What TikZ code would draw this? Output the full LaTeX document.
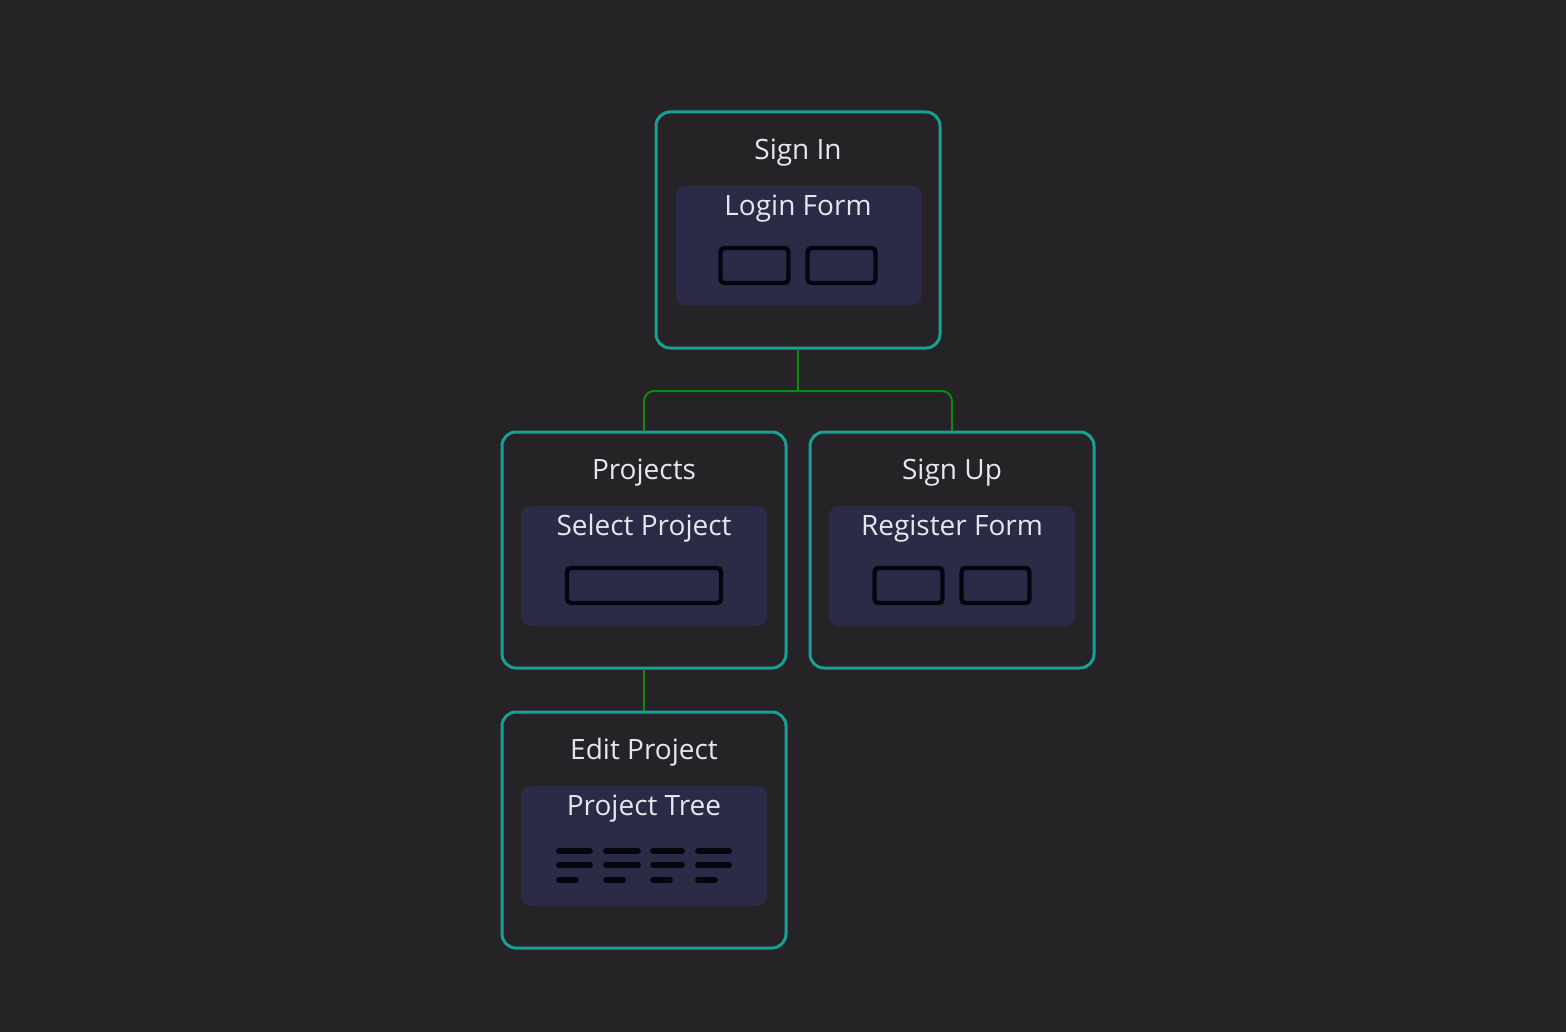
\documentclass[tikz,border=0pt]{standalone}
\usepackage{fontspec}
\setmainfont{Open Sans}
\definecolor{bg}{HTML}{252326}
\definecolor{teal}{HTML}{17A096}
\definecolor{panel}{HTML}{2B2B47}
\definecolor{conn}{HTML}{0E8A12}
\definecolor{txt}{HTML}{E6E6EE}
\definecolor{btn}{HTML}{050510}
\begin{document}
\begin{tikzpicture}[x=0.5pt,y=-0.5pt,
  screen/.style={draw=teal, line width=1.5pt, rounded corners=7pt, fill=bg, minimum width=142pt, minimum height=118pt, inner sep=0pt},
  pnl/.style={fill=panel, rounded corners=5pt, minimum width=123pt, minimum height=60pt, inner sep=0pt},
  ttl/.style={text=txt, font=\fontsize{14}{16}\selectfont, inner sep=0pt},
  btnbox/.style={draw=btn, line width=2.2pt, rounded corners=2pt, fill=panel, minimum width=34pt, minimum height=17.5pt, inner sep=0pt},
  wide/.style={btnbox, minimum width=77pt},
  conline/.style={draw=conn, line width=1pt, rounded corners=5pt},
  bar/.style={draw=btn, line width=2.9pt, line cap=round}]
\fill[bg] (0,0) rectangle (1566,1032);
\useasboundingbox (0,0) rectangle (1566,1032);

% screens
\node[screen] (signin) at (798,230) {};
\node[screen] (projects) at (644,550) {};
\node[screen] (signup) at (952,550) {};
\node[screen] (edit) at (644,830) {};

% panels
\node[pnl] (p1) at (798.5,245.5) {};
\node[pnl] (p2) at (644,566) {};
\node[pnl] (p3) at (952,566) {};
\node[pnl] (p4) at (644,846) {};

% titles
\node[ttl] (t1) at (798,152.5) {Sign In};
\node[ttl] (t2) at (644,472.5) {Projects};
\node[ttl] (t3) at (952,472.5) {Sign Up};
\node[ttl] (t4) at (644,752.5) {Edit Project};
\node[ttl] (s1) at (798,208.5) {Login Form};
\node[ttl] (s2) at (644,528.5) {Select Project};
\node[ttl] (s3) at (952,528.5) {Register Form};
\node[ttl] (s4) at (644,808.5) {Project Tree};

% buttons
\node[btnbox] (b1) at (754.5,265.5) {};
\node[btnbox] (b2) at (841.5,265.5) {};
\node[wide] (b3) at (644,585.5) {};
\node[btnbox] (b4) at (908.5,585.5) {};
\node[btnbox] (b5) at (995.5,585.5) {};

% project tree bars
\foreach \xa/\xb/\xc in {559/590/576, 606/638/623, 653/682/670, 698/729/715}{
  \draw[bar] (\xa,851) -- (\xb,851);
  \draw[bar] (\xa,865) -- (\xb,865);
  \draw[bar] (\xa,880) -- (\xc,880);
}

% connectors
\coordinate (split) at (798,391);
\draw[conline] (signin.south) -- (split);
\draw[conline] (split) -| (projects.north);
\draw[conline] (split) -| (signup.north);
\draw[conline] (projects.south) -- (edit.north);
\end{tikzpicture}
\end{document}
